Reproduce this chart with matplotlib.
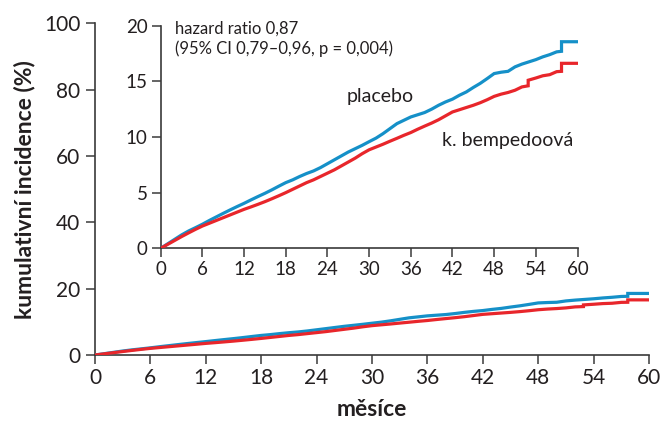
import matplotlib
matplotlib.use("Agg")
import matplotlib.pyplot as plt

plt.rcParams['font.family'] = ['Lato', 'DejaVu Sans']

# --- data ---
placebo_months = [0, 1, 2, 3, 4, 5, 6, 7, 8, 9, 10, 11, 12, 13, 14, 15, 16, 17, 18, 19, 20,
                  21, 22, 23, 24, 25, 26, 27, 28, 29, 30, 31, 32, 33, 34, 35, 36, 37, 38, 39,
                  40, 41, 42, 43, 44, 45, 46, 47, 48, 49, 50, 51, 52, 53, 54, 55, 56, 57,
                  57.7, 57.7, 60]
placebo = [0, 0.4, 0.8, 1.2, 1.55, 1.85, 2.16, 2.5, 2.82, 3.14, 3.45, 3.75, 4.04, 4.35,
           4.65, 4.94, 5.25, 5.58, 5.9, 6.15, 6.45, 6.72, 6.95, 7.25, 7.6, 7.95, 8.3, 8.65,
           8.95, 9.25, 9.58, 9.9, 10.3, 10.75, 11.2, 11.5, 11.8, 12.0, 12.2, 12.5, 12.85,
           13.15, 13.4, 13.75, 14.05, 14.45, 14.82, 15.25, 15.7, 15.82, 15.9, 16.3, 16.55,
           16.75, 16.95, 17.2, 17.4, 17.65, 17.7, 18.56, 18.56]
bempedoic_months = [0, 1, 2, 3, 4, 5, 6, 7, 8, 9, 10, 11, 12, 13, 14, 15, 16, 17, 18, 19,
                    20, 21, 22, 23, 24, 25, 26, 27, 28, 29, 30, 31, 32, 33, 34, 35, 36, 37,
                    38, 39, 40, 41, 42, 43, 44, 45, 46, 47, 48, 49, 50, 51, 52, 52.9, 52.9,
                    54, 55, 56, 57, 57.7, 57.7, 60]
bempedoic = [0, 0.35, 0.7, 1.05, 1.38, 1.7, 2.0, 2.25, 2.5, 2.75, 3.0, 3.25, 3.5, 3.72,
             3.95, 4.19, 4.45, 4.72, 5.0, 5.3, 5.6, 5.9, 6.15, 6.45, 6.75, 7.05, 7.4, 7.75,
             8.1, 8.5, 8.85, 9.1, 9.35, 9.62, 9.88, 10.15, 10.4, 10.7, 10.98, 11.25, 11.55,
             11.9, 12.25, 12.45, 12.65, 12.85, 13.08, 13.35, 13.65, 13.85, 14.0, 14.2, 14.5,
             14.6, 15.1, 15.3, 15.5, 15.6, 15.87, 15.9, 16.62, 16.62]
x_ticks = [0, 6, 12, 18, 24, 30, 36, 42, 48, 54, 60]
main_y_ticks = [0, 20, 40, 60, 80, 100]
inset_y_ticks = [0, 5, 10, 15, 20]

BLUE = '#1590c8'
RED = '#e8262b'
AX = '#3a3a3a'
TXT = '#231f20'

fig = plt.figure(figsize=(6.62, 4.23), dpi=100)

def style(ax, fs):
    for s in ('top', 'right'):
        ax.spines[s].set_visible(False)
    for s in ('left', 'bottom'):
        ax.spines[s].set_color(AX)
        ax.spines[s].set_linewidth(1.2)
    ax.tick_params(direction='out', length=6.5, width=1.1, color=AX,
                   labelcolor=TXT, labelsize=fs)

def draw(ax):
    ax.plot(placebo_months, placebo, color=BLUE, lw=2.3, zorder=3,
            solid_joinstyle='miter')
    ax.plot(bempedoic_months, bempedoic, color=RED, lw=2.3, zorder=3,
            solid_joinstyle='miter')

# main axes
ax = fig.add_axes([95/662, (423-355)/423, (649-95)/662, (355-23.3)/423])
draw(ax)
ax.set_xlim(0, 60)
ax.set_ylim(0, 100)
ax.set_xticks(x_ticks)
ax.set_yticks(main_y_ticks)
style(ax, 15)
ax.tick_params(axis='x', pad=3)
ax.tick_params(axis='y', pad=4)
ax.set_xlabel('měsíce', fontsize=16.5, fontweight='bold', color=TXT, labelpad=8)
ax.set_ylabel('kumulativní incidence (%)', fontsize=16.5, fontweight='bold',
              color=TXT, labelpad=6)
ax.patch.set_alpha(0)

# inset axes
ins = fig.add_axes([160.7/662, (423-248.3)/423, (577.5-160.7)/662, (248.3-25.7)/423])
draw(ins)
ins.set_xlim(0, 60)
ins.set_ylim(0, 20)
ins.set_xticks(x_ticks)
ins.set_yticks(inset_y_ticks)
style(ins, 13.5)
ins.tick_params(axis='both', pad=3)

ins.text(0.035, 0.985, 'hazard ratio 0,87', transform=ins.transAxes, fontsize=12,
         color=TXT, ha='left', va='center')
ins.text(0.035, 0.895, '(95% CI 0,79–0,96, p = 0,004)', transform=ins.transAxes,
         fontsize=12, color=TXT, ha='left', va='center')
ins.text(31.6, 13.6, 'placebo', fontsize=14, color=TXT, ha='center', va='center')
ins.text(50.0, 9.7, 'k. bempedoová', fontsize=14, color=TXT, ha='center', va='center')

fig.savefig('out.png', dpi=100)
